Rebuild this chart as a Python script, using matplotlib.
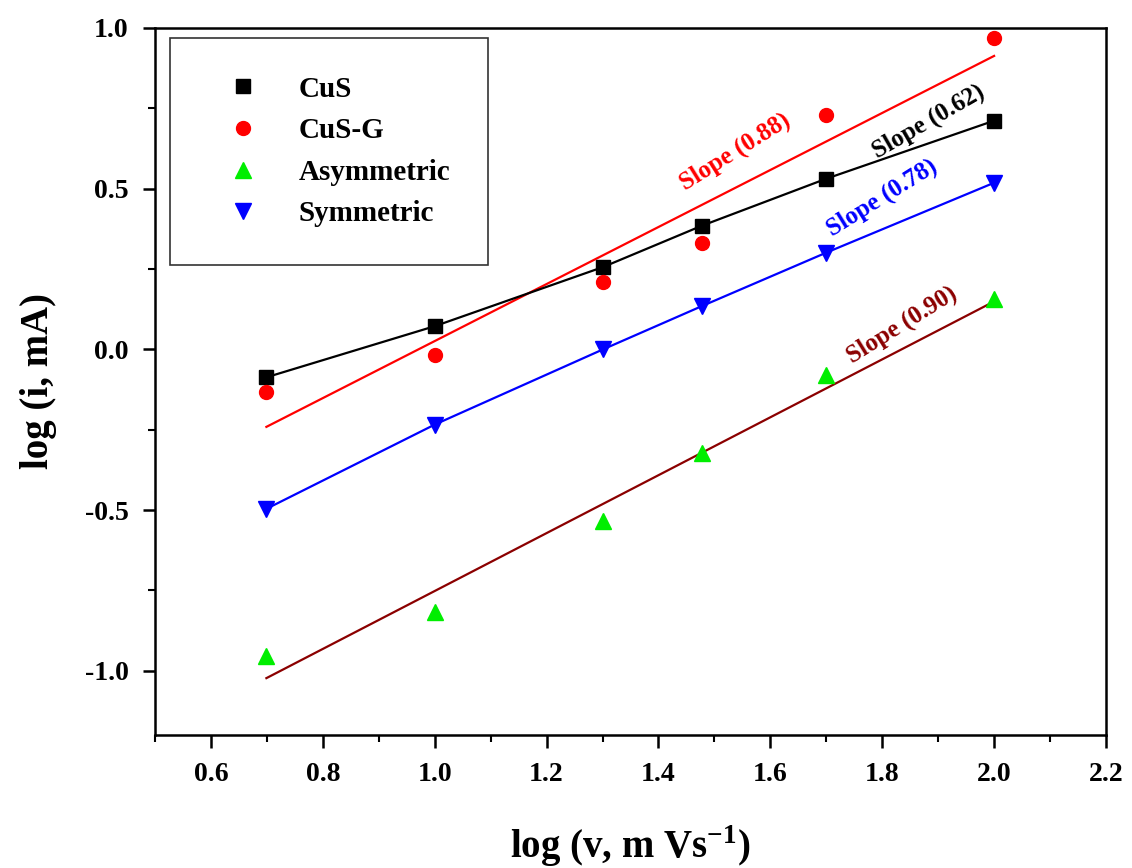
import matplotlib
matplotlib.use("Agg")
import matplotlib.pyplot as plt
import numpy as np
from matplotlib.ticker import MultipleLocator

plt.rcParams["font.family"] = "Liberation Serif"
plt.rcParams["font.weight"] = "bold"
plt.rcParams["axes.unicode_minus"] = False
plt.rcParams["mathtext.fontset"] = "custom"
plt.rcParams["mathtext.rm"] = "Liberation Serif:bold"
plt.rcParams["mathtext.bf"] = "Liberation Serif:bold"

# log of scan rate (5, 10, 20, 30, 50, 100 mV/s)
log_v = [0.699, 1.0, 1.301, 1.477, 1.699, 2.0]

cus = [-0.087, 0.072, 0.256, 0.384, 0.530, 0.711]
cus_g = [-0.134, -0.019, 0.209, 0.331, 0.730, 0.967]
asym = [-0.954, -0.817, -0.533, -0.321, -0.081, 0.156]
sym = [-0.496, -0.234, 0.0, 0.134, 0.300, 0.518]

slope_labels = ["Slope (0.62)", "Slope (0.88)", "Slope (0.78)", "Slope (0.90)"]

fig = plt.figure(figsize=(11.32, 8.68), dpi=100)
ax = fig.add_axes([0.137, 0.153, 0.840, 0.815])

x = np.array(log_v)

# straight-line fits for CuS-G and Asymmetric
p_red = np.polyfit(x, cus_g, 1)
p_asym = np.polyfit(x, asym, 1)
ax.plot(x, np.polyval(p_red, x), color="red", lw=1.6, zorder=2)
ax.plot(x, np.polyval(p_asym, x), color="#8b0000", lw=1.6, zorder=2)

ax.plot(x, cus, color="black", lw=1.6, marker="s", ms=10, ls="-", label="CuS", zorder=3)
ax.plot(x, cus_g, color="red", marker="o", ms=10, ls="none", label="CuS-G", zorder=3)
ax.plot(x, asym, color="#00ee00", marker="^", ms=12, ls="none", label="Asymmetric", zorder=3)
ax.plot(x, sym, color="blue", lw=1.6, marker="v", ms=12, ls="-", label="Symmetric", zorder=3)

# slope annotations
ax.text(1.882, 0.708, slope_labels[0], color="black", fontsize=18, rotation=30,
        ha="center", va="center", fontweight="bold")
ax.text(1.537, 0.614, slope_labels[1], color="red", fontsize=18, rotation=32,
        ha="center", va="center", fontweight="bold")
ax.text(1.799, 0.471, slope_labels[2], color="blue", fontsize=18, rotation=32,
        ha="center", va="center", fontweight="bold")
ax.text(1.835, 0.075, slope_labels[3], color="#8b0000", fontsize=18, rotation=32,
        ha="center", va="center", fontweight="bold")

ax.set_xlim(0.5, 2.2)
ax.set_ylim(-1.2, 1.0)
ax.xaxis.set_major_locator(MultipleLocator(0.2))
ax.xaxis.set_minor_locator(MultipleLocator(0.1))
ax.yaxis.set_major_locator(MultipleLocator(0.5))
ax.yaxis.set_minor_locator(MultipleLocator(0.25))
ax.set_xticks(np.arange(0.6, 2.21, 0.2))
ax.set_xticklabels([f"{t:.1f}" for t in np.arange(0.6, 2.21, 0.2)])
ax.tick_params(which="major", direction="out", length=9, width=1.8, labelsize=20, pad=10)
ax.tick_params(which="minor", direction="out", length=5, width=1.5)
for lab in ax.get_xticklabels() + ax.get_yticklabels():
    lab.set_fontweight("bold")
for sp in ax.spines.values():
    sp.set_linewidth(1.8)

ax.set_xlabel(r"log (v, m Vs$^{-1}$)", fontsize=28, fontweight="bold", labelpad=26)
ax.set_ylabel("log (i, mA)", fontsize=28, fontweight="bold", labelpad=20)

leg = ax.legend(loc="upper left", bbox_to_anchor=(0.016, 0.986), frameon=True,
                fancybox=False, edgecolor="black", borderpad=1.3,
                labelspacing=0.5, handlelength=2.4, handletextpad=0.7,
                borderaxespad=0, prop={"weight": "bold", "size": 21})
leg.get_frame().set_linewidth(1.2)
for h in leg.legend_handles:
    h.set_linestyle("none")

fig.savefig("out.png", dpi=100)
